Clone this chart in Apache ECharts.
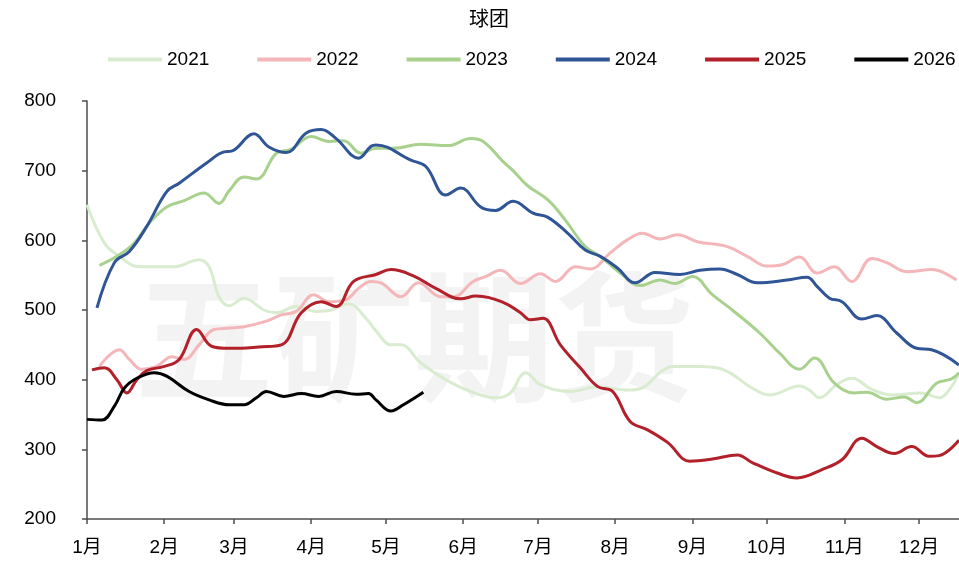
<!DOCTYPE html>
<html>
<head>
<meta charset="utf-8">
<title>球团</title>
<script src="https://cdn.jsdelivr.net/npm/echarts@6/dist/echarts.min.js"></script>
<style>
  html, body { margin: 0; padding: 0; background: #fff; }
  #main { width: 959px; height: 563px; }
</style>
</head>
<body>
<div id="main"></div>
<script>
// x = day offset from Jan 1, y = price
var monthStarts = [0, 31, 59, 90, 120, 151, 181, 212, 243, 273, 304, 334];
var monthLabels = ['1月', '2月', '3月', '4月', '5月', '6月', '7月', '8月', '9月', '10月', '11月', '12月'];
var years = ['2021', '2022', '2023', '2024', '2025', '2026'];

var d2021 = [[0,651],[7,596],[13,577],[21,562],[35,562],[45,572],[49,562],[53,519],[57,506],[63,517],[71,500],[76,496],[84,505],[92,498],[98,500],[105,509],[112,488],[116,470],[122,450],[126,450],[134,424],[144,400],[154,383],[164,374],[170,381],[174,405],[176,410],[182,393],[194,383],[205,390],[217,385],[222,387],[231,413],[235,419],[246,419],[255,415],[267,388],[274,378],[286,391],[290,385],[294,374],[301,393],[307,402],[315,386],[323,378],[335,381],[342,374],[347,390],[350,410]];
var d2022 = [[5,419],[13,443],[17,429],[22,415],[28,419],[34,433],[39,429],[45,450],[51,472],[57,474],[63,476],[72,484],[78,493],[84,498],[91,522],[97,512],[104,515],[109,531],[114,541],[118,539],[126,519],[133,539],[142,519],[147,519],[155,541],[160,548],[166,557],[174,538],[182,552],[188,541],[196,562],[202,559],[210,582],[217,601],[223,610],[230,602],[237,608],[245,598],[257,591],[265,577],[273,563],[279,565],[286,576],[293,553],[300,562],[307,541],[315,574],[321,568],[329,555],[339,558],[349,543]];
var d2023 = [[5,564],[12,577],[19,596],[25,625],[32,648],[39,657],[47,668],[53,653],[57,671],[63,691],[68,688],[76,725],[82,731],[90,749],[97,742],[103,743],[110,725],[116,732],[123,732],[134,738],[145,736],[154,746],[159,742],[167,713],[171,700],[177,678],[185,658],[192,629],[200,591],[206,577],[214,553],[222,535],[230,543],[236,538],[243,548],[251,522],[259,500],[270,467],[278,438],[286,415],[292,431],[300,395],[308,381],[313,382],[321,372],[328,375],[333,367],[341,395],[347,401],[350,410]];
var d2024 = [[4,503],[11,568],[17,584],[24,620],[32,670],[37,682],[48,711],[55,727],[58,728],[67,753],[73,734],[80,726],[88,754],[94,759],[100,746],[109,718],[114,735],[116,737],[130,715],[136,706],[144,665],[150,675],[158,648],[164,643],[171,656],[179,639],[185,633],[193,610],[200,586],[206,577],[213,560],[220,539],[228,554],[238,551],[246,557],[254,559],[261,551],[269,539],[281,543],[289,547],[293,534],[298,517],[303,512],[311,487],[317,492],[325,467],[333,445],[339,443],[350,421]];
var d2025 = [[2,414],[7,417],[12,400],[16,381],[20,400],[24,413],[31,419],[37,429],[44,472],[50,448],[57,445],[62,445],[69,447],[78,450],[86,496],[94,512],[100,505],[107,541],[116,551],[122,558],[131,549],[140,531],[150,516],[156,520],[167,511],[174,496],[178,486],[183,488],[190,450],[198,417],[205,390],[211,383],[218,340],[225,328],[233,310],[242,283],[251,286],[261,292],[267,281],[277,266],[285,259],[295,271],[303,285],[311,316],[317,304],[324,294],[331,304],[338,290],[342,291],[350,313]];
var d2026 = [[0,343],[6,342],[11,362],[15,388],[20,402],[27,410],[32,405],[41,383],[49,371],[57,364],[63,364],[68,374],[72,383],[79,376],[86,380],[93,376],[100,383],[108,379],[113,380],[116,371],[122,355],[127,364],[135,382]];

var colors = ['#d9ecd0', '#f4b6b9', '#a9d18e', '#2f5597', '#b2202a', '#000000'];
var allData = [d2021, d2022, d2023, d2024, d2025, d2026];

var labelFont = "'Liberation Sans', 'Noto Sans CJK SC', sans-serif";

var chart = echarts.init(document.getElementById('main'), null, { renderer: 'canvas' });

var series = years.map(function (y, i) {
  return {
    name: y,
    type: 'line',
    smooth: 0.4,
    symbol: 'none',
    data: allData[i],
    lineStyle: { width: 3, color: colors[i] },
    itemStyle: { color: colors[i] },
    z: 2 + i
  };
});

var option = {
  backgroundColor: '#fff',
  animation: false,
  color: colors,
  title: {
    text: '球团',
    left: 464,
    top: 3,
    textStyle: {
      fontFamily: 'Noto Sans CJK SC',
      fontSize: 20,
      fontWeight: 'normal',
      color: '#000'
    }
  },
  legend: {
    left: 103,
    top: 45,
    width: 900,
    icon: 'rect',
    itemWidth: 54,
    itemHeight: 4,
    itemGap: 48,
    textStyle: {
      fontFamily: labelFont,
      fontSize: 19,
      color: '#000'
    },
    data: years
  },
  graphic: [{
    type: 'text',
    z: 0,
    silent: true,
    style: {
      text: '五矿期货',
      x: 414,
      y: 337,
      align: 'center',
      verticalAlign: 'middle',
      fontFamily: 'Noto Sans CJK SC',
      fontWeight: 'bold',
      fontSize: 140,
      fill: '#f3f3f3'
    }
  }],
  grid: {
    left: 87,
    right: 0,
    top: 101,
    bottom: 44,
    containLabel: false
  },
  xAxis: {
    type: 'value',
    min: 0,
    max: 350,
    splitLine: { show: false },
    axisLine: { show: true, lineStyle: { color: '#4d4d4d', width: 1.5 } },
    axisTick: {
      show: true,
      length: 5,
      customValues: monthStarts,
      lineStyle: { color: '#4d4d4d', width: 1.5 }
    },
    axisLabel: {
      customValues: monthStarts,
      margin: 19,
      fontFamily: labelFont,
      fontSize: 19,
      color: '#000',
      formatter: function (v) {
        var idx = monthStarts.indexOf(v);
        return idx >= 0 ? monthLabels[idx] : '';
      }
    }
  },
  yAxis: {
    type: 'value',
    min: 200,
    max: 800,
    interval: 100,
    splitLine: { show: false },
    axisLine: { show: true, lineStyle: { color: '#4d4d4d', width: 1.5 } },
    axisTick: { show: true, length: 5, lineStyle: { color: '#4d4d4d', width: 1.5 } },
    axisLabel: {
      margin: 31,
      fontFamily: labelFont,
      fontSize: 19,
      color: '#000'
    }
  },
  series: series
};

chart.setOption(option);
</script>
</body>
</html>
